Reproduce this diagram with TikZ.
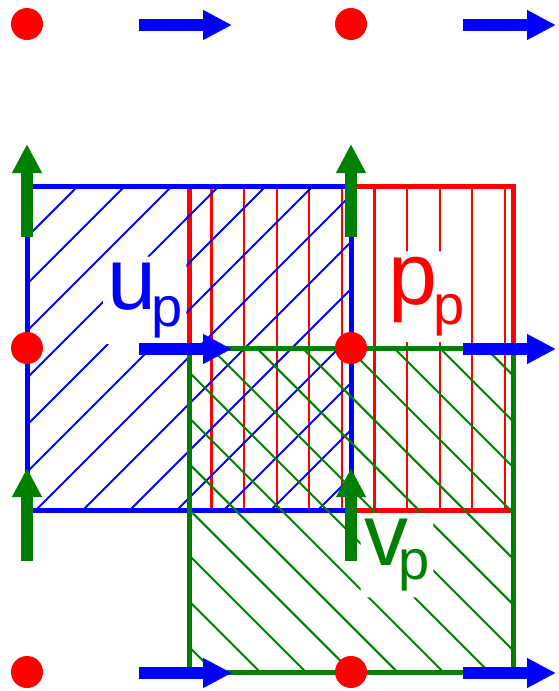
\documentclass[tikz,border=0pt]{standalone}
\usepackage{fontspec}
\setmainfont{Liberation Sans}
\usetikzlibrary{arrows.meta,positioning}
\definecolor{vgreen}{RGB}{0,128,0}
\newcommand{\subp}[2]{\raisebox{#1}{\fontsize{56}{56}\selectfont #2}}

\begin{document}
\begin{tikzpicture}[
    x=1pt, y=-1pt,
    pdot/.style={circle, fill=red, inner sep=0pt, minimum size=32pt},
    uarrow/.style={-{Triangle[length=29pt, width=28pt]}, line width=12pt, blue},
    varrow/.style={-{Triangle[length=29pt, width=28pt]}, line width=12pt, vgreen},
    cell/.style={line width=5pt},
    hatch/.style={line width=2pt},
    lbl/.style={fill=white, rounded corners=5pt, inner xsep=4pt, inner ysep=6pt,
                anchor=base west, font=\fontsize{88}{88}\selectfont}
]
\useasboundingbox (0,0) rectangle (558,691);

% pressure cell
\begin{scope}
  \clip (189,186) rectangle (513,510);
  \foreach \k in {0,...,9}
    \draw[hatch, red, line width=2.2pt] ({211.5+32.6*\k},180) -- ({211.5+32.6*\k},520);
\end{scope}
\draw[cell, red] (189,186) rectangle (513,510);
% u cell
\begin{scope}
  \clip (27,186) rectangle (351,510);
  \foreach \k in {0,...,12}
    \draw[hatch, blue] ({264+47*\k-540},540) -- ({264+47*\k-160},160);
\end{scope}
\draw[cell, blue] (27,186) rectangle (351,510);
% v cell
\begin{scope}
  \clip (189,348) rectangle (513,672);
  \foreach \k in {-1,...,12}
    \draw[hatch, vgreen] ({-412+45.8*\k+330},330) -- ({-412+45.8*\k+690},690);
\end{scope}
\draw[cell, vgreen] (189,348) rectangle (513,672);

% labels
\node[lbl, text=blue] (ulbl) at (103,309) {u\kern-4.9pt\subp{-17.7pt}{p}};
\node[lbl, text=red] (plbl) at (384.6,304.6) {p\kern-4.5pt\subp{-20pt}{p}};
\node[lbl, text=vgreen] (vlbl) at (360.4,565.7) {v\kern-10.4pt\subp{-14pt}{p}};

% velocity arrows
\foreach \i/\x in {0/189,1/513}
  \foreach \j/\y in {0/25,1/349,2/673} {
    \coordinate (u-\i-\j) at (\x,\y);
    \draw[uarrow] ([xshift=-50pt]u-\i-\j) -- ([xshift=43pt]u-\i-\j);
  }
\foreach \i/\x in {0/27,1/351}
  \foreach \j/\y in {0/186,1/510} {
    \coordinate (v-\i-\j) at (\x,\y);
    \draw[varrow] ([yshift=-51pt]v-\i-\j) -- ([yshift=42pt]v-\i-\j);
  }

% pressure points
\foreach \i/\x in {0/27,1/351}
  \foreach \j/\y in {0/24,1/348,2/672}
    \node[pdot] (p-\i-\j) at (\x,\y) {};
\end{tikzpicture}
\end{document}
